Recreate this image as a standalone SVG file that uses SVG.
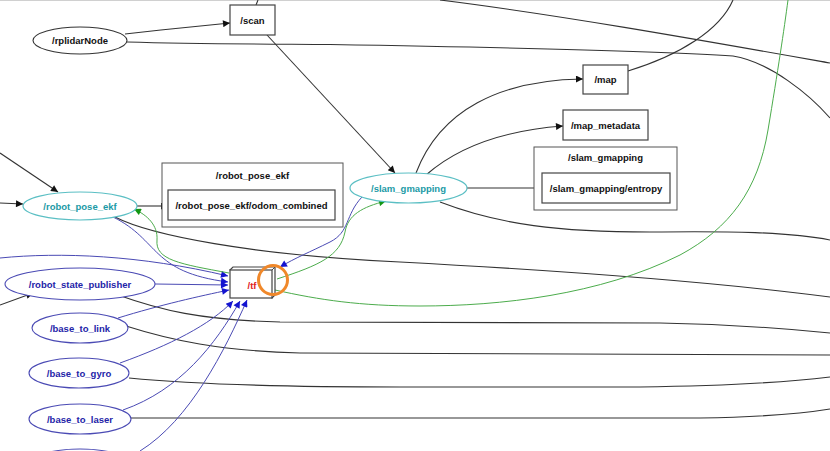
<svg xmlns="http://www.w3.org/2000/svg" width="830" height="451" viewBox="0 0 830 451">
<defs>
<style>
text{font-family:"Liberation Sans",Arial,sans-serif;font-size:9.5px;font-weight:bold;text-anchor:middle;dominant-baseline:central}
.k{fill:none;stroke:#333;stroke-width:1.1}
.b{fill:none;stroke:#4a4ab4;stroke-width:1}
.g{fill:none;stroke:#4cac4c;stroke-width:1}
.box{fill:#fff;stroke:#444;stroke-width:1.2}
.cl{fill:#fff;stroke:#555;stroke-width:1}
.ec{fill:#fff;stroke:#5bbfc4;stroke-width:1.2}
.eb{fill:#fff;stroke:#4a4ab4;stroke-width:1.1}
.ek{fill:#fff;stroke:#333;stroke-width:1.1}
.tc{fill:#1b9aa6}
.tb{fill:#2424a8}
.tk{fill:#111}
</style>
<marker id="ak" viewBox="0 0 10 10" refX="10" refY="5" markerWidth="10" markerHeight="7" markerUnits="userSpaceOnUse" orient="auto"><path d="M0,0L10,5L0,10z" fill="#111"/></marker>
<marker id="ab" viewBox="0 0 10 10" refX="10" refY="5" markerWidth="10" markerHeight="7" markerUnits="userSpaceOnUse" orient="auto"><path d="M0,0L10,5L0,10z" fill="#1414d0"/></marker>
<marker id="ag" viewBox="0 0 10 10" refX="10" refY="5" markerWidth="10" markerHeight="7" markerUnits="userSpaceOnUse" orient="auto"><path d="M0,0L10,5L0,10z" fill="#129612"/></marker>
</defs>
<rect x="0" y="0" width="830" height="451" fill="#fff"/>
<line x1="0" y1="0.5" x2="830" y2="0.5" stroke="#d0d0d0" stroke-width="1"/>

<g id="connectors">
<!-- black -->
<path class="k" d="M256,5 L258,0"/>
<path class="k" marker-end="url(#ak)" d="M125,34 C 160,30 200,26 230,23"/>
<path class="k" d="M127,42 C 200,44 260,44 330,44.5 C 480,47 650,50 733,56 C 770,62 810,95 830,118"/>
<path class="k" d="M440,0 C 560,15 700,40 830,63"/>
<path class="k" d="M628,71 C 680,55 720,30 733,0"/>
<path class="k" marker-end="url(#ak)" d="M267,35 L395,173"/>
<path class="k" marker-end="url(#ak)" d="M416,173 C 440,110 500,80 583,79"/>
<path class="k" marker-end="url(#ak)" d="M426,175 C 460,145 510,130 563,126"/>
<path class="k" marker-end="url(#ak)" d="M467,188 L542,188"/>
<path class="k" d="M440,202 C 500,225 560,232 650,232 C 730,231 790,232 830,240"/>
<path class="k" marker-end="url(#ak)" d="M0,153 L58,192"/>
<path class="k" marker-end="url(#ak)" d="M0,203 L23,204"/>
<path class="k" marker-end="url(#ak)" d="M137,206 L168,206"/>
<path class="k" d="M115,217 C 150,235 250,255 400,262 C 550,270 700,280 830,297"/>
<path class="k" marker-end="url(#ak)" d="M0,305 L33,293"/>
<path class="k" d="M118,295 C 160,310 200,320 280,322 L 660,323 C 720,324 780,328 830,333"/>
<path class="k" d="M126,326 C 170,340 220,351 300,353 L 830,355"/>
<path class="k" d="M129,378 C 200,385 300,387 400,387 L 640,387 C 720,386 780,383 830,377"/>
<path class="k" d="M131,418 L 700,418 C 760,417 800,414 830,409"/>
<!-- blue -->
<path class="b" marker-end="url(#ab)" d="M0,258 C 60,252 140,255 228,276"/>
<path class="b" marker-end="url(#ab)" d="M113,217 C 160,240 150,272 228,282"/>
<path class="b" marker-end="url(#ab)" d="M155,284 L228,285"/>
<path class="b" marker-end="url(#ab)" d="M118,318 C 160,305 200,296 229,290"/>
<path class="b" marker-end="url(#ab)" d="M120,363 C 170,345 210,325 233,301"/>
<path class="b" marker-end="url(#ab)" d="M123,410 C 180,390 215,345 240,301"/>
<path class="b" marker-end="url(#ab)" d="M140,451 C 190,420 225,350 247,300"/>
<path class="b" marker-end="url(#ab)" d="M362,197 C 345,215 350,232 330,242 C 310,252 295,258 280,267"/>
<!-- green -->
<path class="g" marker-end="url(#ag)" d="M229,273 C 180,264 155,260 157,240 C 158,225 147,215 134,209"/>
<path class="g" marker-end="url(#ag)" d="M277,279 C 320,265 340,256 345,232 C 348,215 362,207 386,201"/>
<path class="g" d="M275,290 C 320,300 360,306 420,306 C 500,306 600,295 680,255 C 730,228 758,190 768,130 C 778,70 784,30 788,0"/>
</g>

<g id="rplidarNode"><ellipse class="ek" cx="80" cy="40.5" rx="47" ry="13.5"/><text class="tk" x="80" y="40.5">/rplidarNode</text></g>
<g id="scan"><rect class="box" x="230" y="5" width="45" height="30"/><text class="tk" x="252.5" y="20">/scan</text></g>
<g id="map"><rect class="box" x="583" y="65" width="45" height="29"/><text class="tk" x="605.5" y="79.5">/map</text></g>
<g id="map_metadata"><rect class="box" x="563" y="110" width="85" height="30"/><text class="tk" x="605.5" y="125">/map_metadata</text></g>
<g id="slam_gmapping_cluster"><rect class="cl" x="534" y="147" width="143" height="63"/><text class="tk" x="605.5" y="157.5">/slam_gmapping</text>
<rect class="box" x="542" y="173" width="128" height="30"/><text class="tk" x="606" y="188.5">/slam_gmapping/entropy</text></g>
<g id="slam_gmapping"><ellipse class="ec" cx="408.5" cy="188" rx="58.5" ry="15"/><text class="tc" x="408.5" y="188.5">/slam_gmapping</text></g>
<g id="robot_pose_ekf_cluster"><rect class="cl" x="162" y="163" width="181" height="64"/><text class="tk" x="252.5" y="175">/robot_pose_ekf</text>
<rect class="box" x="168" y="190" width="167" height="30"/><text class="tk" x="251.5" y="205.5">/robot_pose_ekf/odom_combined</text></g>
<g id="robot_pose_ekf"><ellipse class="ec" cx="80" cy="206" rx="57" ry="14"/><text class="tc" x="80" y="206.5">/robot_pose_ekf</text></g>
<g id="tf"><path class="box" d="M230,270 L233,267 L275,267 L275,295 L272,298 Z"/><rect class="box" x="230" y="270" width="42" height="28"/><line x1="272" y1="270" x2="275" y2="267" stroke="#444" stroke-width="1"/><text x="252" y="285" fill="#e02020">/tf</text></g>
<circle cx="273" cy="280" r="14.5" fill="none" stroke="#f0882a" stroke-width="3"/>
<g id="robot_state_publisher"><ellipse class="eb" cx="80" cy="284" rx="75" ry="16"/><text class="tb" x="80" y="284">/robot_state_publisher</text></g>
<g id="base_to_link"><ellipse class="eb" cx="80" cy="328" rx="48" ry="15"/><text class="tb" x="80" y="328.5">/base_to_link</text></g>
<g id="base_to_gyro"><ellipse class="eb" cx="79" cy="373" rx="50" ry="15"/><text class="tb" x="79" y="373.5">/base_to_gyro</text></g>
<g id="base_to_laser"><ellipse class="eb" cx="80" cy="419" rx="51" ry="15"/><text class="tb" x="80" y="419">/base_to_laser</text></g>
<g id="bottom_node"><ellipse class="eb" cx="80" cy="464" rx="50" ry="15"/></g>
</svg>
